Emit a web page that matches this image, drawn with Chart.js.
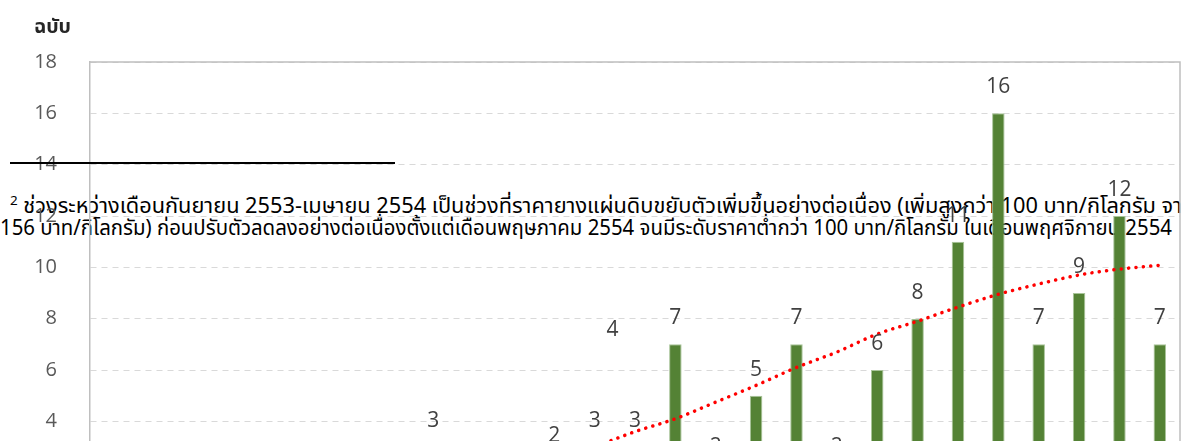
<!DOCTYPE html>
<html lang="th">
<head>
<meta charset="utf-8">
<script src="https://cdn.jsdelivr.net/npm/chart.js@4.4.1/dist/chart.umd.min.js"></script>
<style>
  html, body { margin: 0; padding: 0; background: #fff; overflow: hidden; }
  #wrap { position: relative; width: 1182px; height: 441px; overflow: hidden; }
  #rule { position: absolute; left: 10px; top: 162px; width: 385px; height: 2px; background: #000; z-index: 2; }
  .note { position: absolute; white-space: nowrap; font-size: 21px; line-height: 29px; color: #000;
          font-family: "Noto Sans Thai", Tahoma, "Noto Sans", sans-serif; transform-origin: 0 0; }
  .note sup { font-size: 13px; vertical-align: 8px; line-height: 0; }
  #note1 { left: 10px; top: 192px; }
  #note2 { left: 0px; top: 214px; }
  #chartBox { position: absolute; left: 0; top: 0; z-index: 1; }
</style>
</head>
<body>
<div id="wrap">
  <div id="rule"></div>
  <div class="note" id="note1"><sup>2</sup> ช่วงระหว่างเดือนกันยายน 2553-เมษายน 2554 เป็นช่วงที่ราคายางแผ่นดิบขยับตัวเพิ่มขึ้นอย่างต่อเนื่อง (เพิ่มสูงกว่า 100 บาท/กิโลกรัม จาก</div>
  <div class="note" id="note2">156 บาท/กิโลกรัม) ก่อนปรับตัวลดลงอย่างต่อเนื่องตั้งแต่เดือนพฤษภาคม 2554 จนมีระดับราคาต่ำกว่า 100 บาท/กิโลกรัม ในเดือนพฤศจิกายน 2554</div>
  <canvas id="chartBox" width="1182" height="569"></canvas>
</div>
<script>
// ข้อมูล (จำนวนฉบับต่อช่วง) - ส่วนล่างของกราฟถูกตัดออก ค่าต้นๆ เป็นค่าประมาณ
const periods = ['1', '2', '3', '4', '5', '6', '7', '8', '9', '10', '11', '12', '13', '14',
                 '15', '16', '17', '18', '19', '20', '21', '22', '23', '24', '25', '26', '27'];
const counts = [1, 0, 1, 1, 0, 1, 1, 0, 3, 1, 1, 2, 3, 3,
                7, 2, 5, 7, 2, 6, 8, 11, 16, 7, 9, 12, 7];
const trend = [null, null, null, null, null, null, null, null, null, 1.1, 1.75, 2.4, 3.0, 3.6,
               4.1, 4.75, 5.4, 6.1, 6.7, 7.4, 7.9, 8.45, 8.95, 9.35, 9.7, 9.93, 10.08];
const yTicks = [0, 2, 4, 6, 8, 10, 12, 14, 16, 18];
const unitLabel = 'ฉบับ';

// ป้ายที่ถูกย้ายตำแหน่งในกราฟต้นฉบับ
const labelShift = { 11: -11 };
const extraLabels = [{ text: '4', at: 12.44, level: 6.53 }];

// ปรับความกว้างข้อความให้เท่าต้นฉบับ
function fitWidth(id, w) {
  const el = document.getElementById(id);
  el.style.transform = 'scaleX(' + (w / el.getBoundingClientRect().width) + ')';
}
fitWidth('note1', 1185);
fitWidth('note2', 1172);

const frame = {
  id: 'frame',
  beforeDatasetsDraw(chart) {
    const a = chart.chartArea, ctx = chart.ctx;
    ctx.save();
    ctx.strokeStyle = '#bfbfbf';
    ctx.lineWidth = 1.5;
    ctx.beginPath();
    ctx.moveTo(a.left, a.top);
    ctx.lineTo(a.right, a.top);
    ctx.lineTo(a.right, a.bottom);
    ctx.stroke();
    // ชื่อหน่วยแกน y
    ctx.font = 'bold 19px "Noto Sans Thai", Tahoma, "Noto Sans", sans-serif';
    ctx.fillStyle = '#262626';
    ctx.textAlign = 'left';
    ctx.textBaseline = 'alphabetic';
    const w = ctx.measureText(unitLabel).width;
    ctx.translate(34, 33);
    ctx.scale(37 / w, 1);
    ctx.fillText(unitLabel, 0, 0);
    ctx.restore();
  }
};

const barLabels = {
  id: 'barLabels',
  afterDatasetsDraw(chart) {
    const ctx = chart.ctx;
    const meta = chart.getDatasetMeta(1);
    ctx.save();
    ctx.font = '21px "Open Sans"';
    ctx.fillStyle = '#404040';
    ctx.textAlign = 'center';
    ctx.textBaseline = 'alphabetic';
    meta.data.forEach((bar, i) => {
      ctx.fillText(String(counts[i]), bar.x, bar.y - 20 + (labelShift[i] || 0));
    });
    extraLabels.forEach(l => {
      const x = chart.scales.x.getPixelForValue(l.at);
      const y = chart.scales.y.getPixelForValue(l.level);
      ctx.fillText(l.text, x, y - 20);
    });
    ctx.restore();
  }
};

new Chart(document.getElementById('chartBox'), {
  data: {
    labels: periods,
    datasets: [{
      type: 'line',
      data: trend,
      borderColor: '#ff0000',
      borderWidth: 3.5,
      borderDash: [0.1, 7.3],
      borderCapStyle: 'round',
      pointRadius: 0,
      cubicInterpolationMode: 'monotone',
      order: 0
    }, {
      type: 'bar',
      data: counts,
      backgroundColor: '#548235',
      borderColor: '#a8c499',
      borderWidth: 1,
      barPercentage: 0.31,
      categoryPercentage: 1,
      order: 1
    }]
  },
  options: {
    responsive: false,
    animation: false,
    // ขอบล่างถูกกำหนดโดย padding ของป้ายแกน y (ประมาณ 45px)
    layout: { padding: { left: 0, right: 2, top: 62, bottom: 0 } },
    plugins: { legend: { display: false }, tooltip: { enabled: false } },
    scales: {
      x: { display: false, offset: true },
      y: {
        min: 0, max: 18,
        afterBuildTicks: s => { s.ticks = yTicks.map(v => ({ value: v })); },
        afterFit: s => { s.width = 90; },
        ticks: { color: '#595959', font: { size: 20, family: 'Open Sans' }, padding: 33 },
        grid: { color: '#d9d9d9', lineWidth: 1, drawTicks: false },
        border: { color: '#bfbfbf', width: 1.5, dash: [6, 5] }
      }
    }
  },
  plugins: [frame, barLabels]
});
</script>
</body>
</html>
